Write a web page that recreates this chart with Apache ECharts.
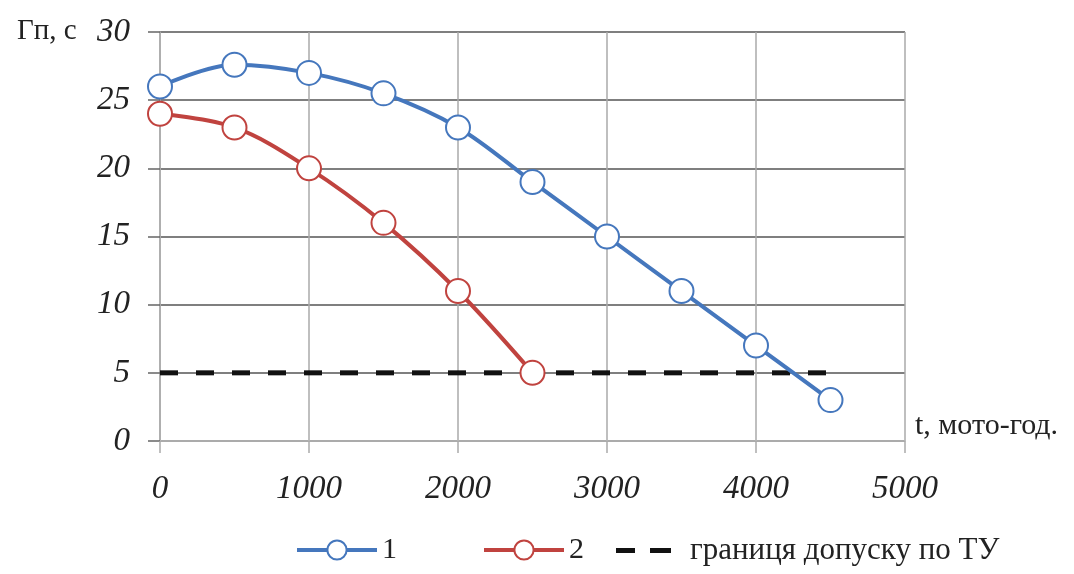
<!DOCTYPE html>
<html>
<head>
<meta charset="utf-8">
<script src="https://cdn.jsdelivr.net/npm/echarts@6/dist/echarts.min.js"></script>
<style>
  html, body { margin: 0; padding: 0; background: #fff; }
  #main { width: 1074px; height: 574px; }
</style>
</head>
<body>
<div id="main"></div>
<script>
// data
var hours1 = [0, 500, 1000, 1500, 2000, 2500, 3000, 3500, 4000, 4500];
var gp1 = [26, 27.6, 27, 25.5, 23, 19, 15, 11, 7, 3];
var hours2 = [0, 500, 1000, 1500, 2000, 2500];
var gp2 = [24, 23, 20, 16, 11, 5];
var limitHours = [0, 4500];
var limitValue = [5, 5];
var seriesNames = ['1', '2', 'границя допуску по ТУ'];

function pairs(xs, ys) {
  return xs.map(function (x, i) { return [x, ys[i]]; });
}

var myChart = echarts.init(document.getElementById('main'));

var serif = '"Liberation Serif", "DejaVu Serif", serif';
var blue = '#4577bd';
var red = '#c0433f';

var legendText = { fontFamily: serif, fontSize: 30, color: '#222' };

var option = {
  animation: false,
  title: {
    text: 'Гп, с',
    left: 12,
    top: 12,
    textStyle: { fontFamily: serif, fontWeight: 'normal', fontSize: 29, color: '#222' }
  },
  legend: [
    {
      left: 290, top: 530,
      itemWidth: 80, itemHeight: 24, itemGap: 0,
      lineStyle: { width: 4 },
      textStyle: legendText,
      data: [seriesNames[0]]
    },
    {
      left: 477, top: 530,
      itemWidth: 80, itemHeight: 24, itemGap: 0,
      lineStyle: { width: 4 },
      textStyle: legendText,
      data: [seriesNames[1]]
    },
    {
      left: 611, top: 530,
      itemWidth: 55, itemHeight: 24, itemGap: 0,
      textStyle: { fontFamily: serif, fontSize: 31, color: '#222', padding: [0, 0, 0, 14] },
      data: [{
        name: seriesNames[2],
        icon: 'path://M0,0H19V5H0Z M34,0H55V5H34Z'
      }]
    }
  ],
  grid: {
    left: 160,
    right: 169,
    top: 32,
    bottom: 133
  },
  xAxis: {
    type: 'value',
    min: 0,
    max: 5000,
    interval: 1000,
    name: 't, мото-год.',
    nameLocation: 'end',
    nameGap: 10,
    nameTextStyle: {
      fontFamily: serif, fontSize: 30, color: '#222',
      verticalAlign: 'bottom', padding: [0, 0, 0, 0]
    },
    axisLine: { lineStyle: { color: '#bbb', width: 1.5 } },
    axisTick: { show: true, length: 12, lineStyle: { color: '#aaa', width: 1.5 } },
    axisLabel: {
      margin: 32,
      formatter: function (v) { return String(v); },
      fontFamily: serif, fontStyle: 'italic', fontSize: 33, color: '#222'
    },
    splitLine: { show: true, lineStyle: { color: '#aaa', width: 1.5 } }
  },
  yAxis: {
    type: 'value',
    min: 0,
    max: 30,
    interval: 5,
    axisLine: { show: true, lineStyle: { color: '#aaa', width: 1.5 } },
    axisTick: { show: true, length: 12, lineStyle: { color: '#666', width: 1.5 } },
    axisLabel: {
      margin: 30,
      fontFamily: serif, fontStyle: 'italic', fontSize: 33, color: '#222'
    },
    splitLine: { show: true, lineStyle: { color: '#555', width: 1.5 } }
  },
  series: [
    {
      name: seriesNames[0],
      type: 'line',
      smooth: 0.35,
      symbol: 'circle',
      symbolSize: 24,
      z: 4,
      lineStyle: { color: blue, width: 4 },
      itemStyle: { color: '#fff', borderColor: blue, borderWidth: 2 },
      data: pairs(hours1, gp1)
    },
    {
      name: seriesNames[1],
      type: 'line',
      smooth: 0.35,
      symbol: 'circle',
      symbolSize: 24,
      z: 4,
      lineStyle: { color: red, width: 4 },
      itemStyle: { color: '#fff', borderColor: red, borderWidth: 2 },
      data: pairs(hours2, gp2)
    },
    {
      name: seriesNames[2],
      type: 'line',
      symbol: 'none',
      z: 3,
      lineStyle: { color: '#111', width: 5, type: [18, 18] },
      itemStyle: { color: '#111' },
      data: pairs(limitHours, limitValue)
    }
  ]
};

myChart.setOption(option);
</script>
</body>
</html>
